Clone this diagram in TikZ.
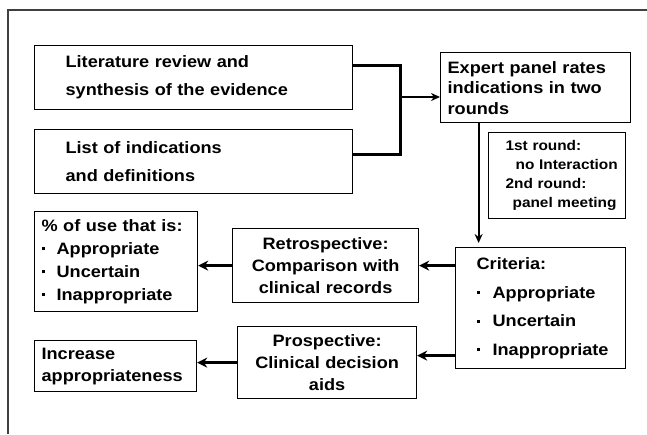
\documentclass[tikz,border=0pt]{standalone}
\usepackage{fontspec}
\setmainfont{Liberation Sans}[FakeStretch=1.1]
\usetikzlibrary{arrows.meta, positioning, calc}

\newcommand{\txt}[2]{\fontsize{#1}{#2}\selectfont\bfseries}
\newcommand{\bul}[1][15pt]{\makebox[#1][l]{\raisebox{4pt}{\rule{3pt}{3pt}}}}

\begin{document}
\begin{tikzpicture}[x=1pt, y=-1pt,
  block/.style={draw, line width=1.2pt, anchor=north west, inner ysep=0pt, align=left},
  link/.style={line width=3pt},
  arr/.style={-{Stealth[length=9pt, width=8pt]}, line width=1.8pt},
  fat/.style={-{Stealth[length=10pt, width=10pt]}, line width=3.5pt},
]
  \useasboundingbox (0,0) rectangle (647,434);
  % outer frame, cut off at the right and bottom
  \draw[line width=1.5pt, black!75] (8,434) -- (8,10) -- (647,10);

  \node[block, text width=256pt, inner xsep=31pt, minimum height=64pt, font=\txt{16.5}{28}] (lit) at (34,45)
    {Literature review and\\synthesis of the evidence};
  \node[block, text width=256pt, inner xsep=31pt, minimum height=64pt, font=\txt{16.5}{28},
    below=19pt of lit.south west, anchor=north west] (list)
    {List of indications\\and definitions};
  \node[block, text width=176pt, inner xsep=7pt, minimum height=70pt, font=\txt{16.5}{20.5}] (expert) at (440,52)
    {Expert panel rates\\indications in two\\rounds};
  \node[block, text width=125pt, inner xsep=6pt, minimum height=86pt, font=\txt{14}{19}] (rounds) at (488,132)
    {\hspace*{11pt}1st round:\\\hspace*{21pt}no Interaction\\\hspace*{11pt}2nd round:\\\hspace*{18pt}panel meeting};
  \node[block, text width=128pt, inner xsep=21pt, minimum height=121pt, font=\txt{16.5}{28.5}] (crit) at (455,247)
    {Criteria:\\\bul[16pt]Appropriate\\\bul[16pt]Uncertain\\\bul[16pt]Inappropriate};
  \node[block, text width=149pt, inner xsep=7pt, minimum height=100pt, font=\txt{16.5}{23}] (pct) at (34,211)
    {\% of use that is:\\\bul Appropriate\\\bul Uncertain\\\bul Inappropriate};
  \node[block, text width=178pt, inner xsep=4pt, minimum height=74pt, align=center, font=\txt{16.5}{22}] (retro) at (232,228)
    {Retrospective:\\Comparison with\\clinical records};
  \node[block, text width=171pt, inner xsep=4pt, minimum height=72pt, align=center, font=\txt{16.5}{22}] (prosp) at (237,326)
    {Prospective:\\Clinical decision\\aids};
  \node[block, text width=148pt, inner xsep=7pt, minimum height=51pt, font=\txt{16.5}{22}] (incr) at (34,340)
    {Increase\\appropriateness};

  \coordinate (join) at (400,97);
  \coordinate (drop) at ($(expert.south)+(-57,0)$);
  \draw[link] ($(lit.east)+(0,-12)$) -| (join) |- ($(list.east)+(0,-7)$);
  \draw[arr] (join) -- (join -| expert.west);
  \draw[arr, shorten >=4pt] (drop) -- (drop |- crit.north);
  \draw[fat] (crit.west |- retro.east) -- (retro.east);
  \draw[fat] (retro.west) -- (pct.east |- retro.west);
  \draw[fat] ($(crit.west |- prosp.east)+(0,-7)$) -- ($(prosp.east)+(0,-7)$);
  \draw[fat] (prosp.west) -- (incr.east |- prosp.west);
\end{tikzpicture}
\end{document}
